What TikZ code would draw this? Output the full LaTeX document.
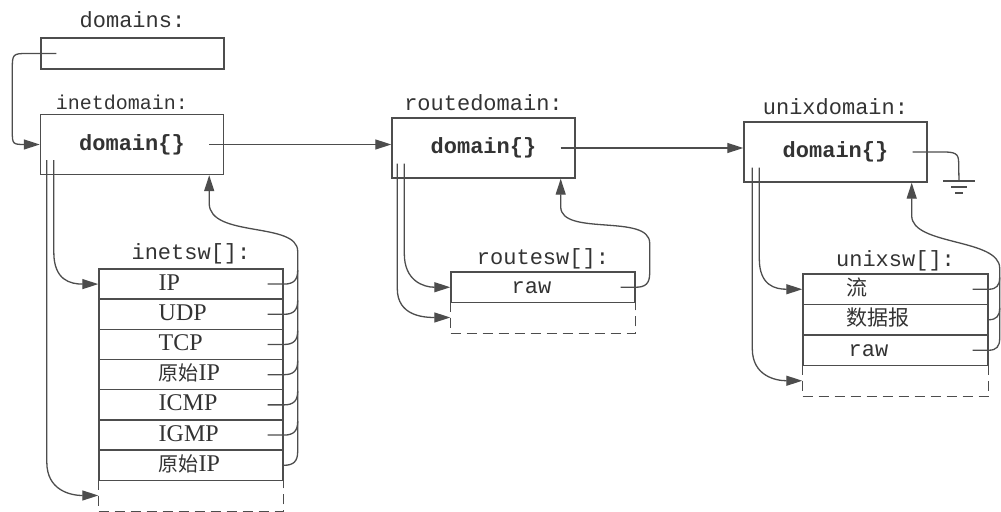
\documentclass[tikz,border=0pt]{standalone}
\usepackage{fontspec}
\setmainfont{Liberation Serif}
\setmonofont{Liberation Mono}
\newfontfamily\cjk{Noto Sans CJK SC}
\usetikzlibrary{arrows.meta,calc,positioning}
\definecolor{ink}{HTML}{333333}
\definecolor{ink2}{HTML}{4D4D4D}
\newcommand{\rawip}{{\cjk\fontsize{10}{12}\selectfont 原始}IP}
\newcommand{\cjkrow}[1]{{\cjk\fontsize{10.5}{12}\selectfont #1}}

\begin{document}
\begin{tikzpicture}[x=0.5pt,y=-0.5pt,
  lbl/.style={font=\ttfamily\fontsize{11}{13}\selectfont, text=ink, anchor=base, inner sep=0pt},
  dombox/.style={draw=ink2, line width=0.7pt, minimum width=91.5pt, minimum height=30pt, inner sep=0pt},
  fn/.style={font=\ttfamily\bfseries\fontsize{11}{13}\selectfont, text=ink},
  slot/.style={draw=ink2, line width=0.7pt, minimum width=92pt, minimum height=15.1pt, inner sep=0pt},
  hole/.style={slot, draw=none},
  rowtxt/.style={font=\fontsize{12}{14}\selectfont, text=ink, anchor=base west, inner sep=0pt},
  monotxt/.style={rowtxt, font=\ttfamily\fontsize{11}{13}\selectfont},
  wire/.style={draw=ink2, line width=0.65pt},
  ptr/.style={wire, -{Triangle[length=8pt,width=5pt]}},
  dashedge/.style={draw=ink2, line width=0.7pt, dash pattern=on 5pt off 3pt}]
  \useasboundingbox (0,0) rectangle (1001,512);

  % the domain structures
  \node[dombox, minimum height=15.5pt] (domains) at (132.5,53.5) {};
  \node[lbl] (domainslbl) at ($(domains.north)+(0,-10)$) {domains:};
  \node[dombox] (inetdom) at (132,144.5) {};
  \node[lbl, font=\ttfamily\fontsize{10}{12}\selectfont] (inetlbl) at ($(inetdom.north)+(-10,-4)$) {inetdomain:};
  \node[fn] (inetfn) at (inetdom) {domain\{\}};
  \node[dombox] (routedom) at (483.5,148) {};
  \node[lbl] (routelbl) at ($(routedom.north)+(0,-7)$) {routedomain:};
  \node[fn] (routefn) at (routedom) {domain\{\}};
  \node[dombox] (unixdom) at (835.5,152) {};
  \node[lbl] (unixlbl) at ($(unixdom.north)+(0,-7)$) {unixdomain:};
  \node[fn] (unixfn) at (unixdom) {domain\{\}};

  % inetsw[]
  \foreach \t [count=\i] in {IP,UDP,TCP,\rawip,ICMP,IGMP,\rawip} {
    \node[slot] (in\i) at (191,{284.1+30.2*(\i-1)}) {};
    \node[rowtxt] at ($(in\i.west)+(60,6)$) {\t};
  }
  \node[hole] (in8) at (191,{284.1+30.2*7}) {};
  \draw[dashedge] (in8.north west) -- (in8.south west) -- (in8.south east) -- (in8.north east);
  \node[lbl] (inetswlbl) at ($(in1.north)+(0,-9)$) {inetsw[]:};

  % routesw[]
  \node[slot] (rs1) at (543,287.25) {};
  \node[monotxt] at ($(rs1.west)+(61,6)$) {raw};
  \node[hole] (rs2) at (543,317.5) {};
  \draw[dashedge] (rs2.north west) -- (rs2.south west) -- (rs2.south east) -- (rs2.north east);
  \node[lbl] (routeswlbl) at ($(rs1.north)+(0,-7)$) {routesw[]:};

  % unixsw[]
  \node[slot, minimum width=92.5pt] (us1) at (895.5,289.25) {};
  \node[slot, minimum width=92.5pt] (us2) at (895.5,319.75) {};
  \node[slot, minimum width=92.5pt] (us3) at (895.5,350.25) {};
  \node[hole, minimum width=92.5pt] (us4) at (895.5,380.75) {};
  \draw[dashedge] (us4.north west) -- (us4.south west) -- (us4.south east) -- (us4.north east);
  \node[rowtxt] at ($(us1.west)+(44,6)$) {\cjkrow{流}};
  \node[rowtxt] at ($(us2.west)+(44,6)$) {\cjkrow{数据报}};
  \node[monotxt] at ($(us3.west)+(46,6)$) {raw};
  \node[lbl] (unixswlbl) at ($(us1.north)+(0,-7)$) {unixsw[]:};

  % chain of domains
  \draw[ptr] ($(domains.west)+(16,0)$) -- ++(-30,0) .. controls +(-13,0) and +(0,-13) .. ++(-14,14)
    -- ++(0,64) .. controls +(0,13) and +(-13,0) .. ($(inetdom.west)+(-14,0)$) -- (inetdom.west);
  \draw[ptr] ($(inetdom.east)+(-15,0)$) -- (routedom.west |- inetdom.east);
  \draw[ptr] ($(routedom.east)+(-15,0)$) -- (unixdom.west |- routedom.east);
  \coordinate (gnd) at (959,181);
  \draw[wire] ($(unixdom.east)+(-15,0)$) -- ++(32,0) .. controls +(14,0) and +(0,-10) .. ++(14,14) -- (gnd);
  \draw[wire] ($(gnd)+(-16,0)$) -- ($(gnd)+(16,0)$) ($(gnd)+(-8,6)$) -- ($(gnd)+(8,6)$)
    ($(gnd)+(-4,12)$) -- ($(gnd)+(4,12)$);

  % inetdomain <-> inetsw[]
  \draw[ptr] ($(inetdom.south west)+(14,-15)$) -- ++(0,92) .. controls +(0,28) and +(-28,0) .. (in1.west);
  \draw[ptr] ($(inetdom.south west)+(7,-15)$) -- ++(0,302) .. controls +(0,28) and +(-28,0) .. (in8.west);
  \foreach \i in {1,...,6}
    \draw[wire] ($(in\i.east)+(-16,0)$) -- (in\i.east) .. controls +(10,0) and +(0,10) .. ++(14,-14);
  \draw[ptr] (in7.east) .. controls +(10,0) and +(0,10) .. ++(14,-14) -- ++(0,-200)
    .. controls +(0,-30) and +(0,35) .. ($(inetdom.south east)+(-15,28)$) -- ($(inetdom.south east)+(-15,0)$);

  % routedomain <-> routesw[]
  \draw[ptr] ($(routedom.south west)+(13,-15)$) -- ++(0,90) .. controls +(0,27) and +(-27,0) .. (rs1.west);
  \draw[ptr] ($(routedom.south west)+(6,-15)$) -- ++(0,125) .. controls +(0,27) and +(-27,0) .. (rs2.west);
  \draw[ptr] ($(rs1.east)+(-15,0)$) -- (rs1.east) .. controls +(10,0) and +(0,10) .. ++(14,-14) -- ++(0,-30)
    .. controls +(0,-30) and +(0,30) .. ($(routedom.south east)+(-15,28)$) -- ($(routedom.south east)+(-15,0)$);

  % unixdomain <-> unixsw[]
  \draw[ptr] ($(unixdom.south west)+(16,-15)$) -- ++(0,91) .. controls +(0,27) and +(-27,0) .. (us1.west);
  \draw[ptr] ($(unixdom.south west)+(9,-15)$) -- ++(0,181) .. controls +(0,27) and +(-27,0) .. (us4.west);
  \draw[wire] ($(us1.east)+(-16,0)$) -- (us1.east) .. controls +(8,0) and +(0,8) .. ++(11,-12);
  \draw[wire] (us2.east) .. controls +(8,0) and +(0,8) .. ++(11,-12);
  \draw[ptr] ($(us3.east)+(-16,0)$) -- (us3.east) .. controls +(8,0) and +(0,8) .. ++(11,-12) -- ++(0,-70)
    .. controls +(0,-30) and +(0,30) .. ($(unixdom.south east)+(-16,33)$) -- ($(unixdom.south east)+(-16,0)$);
\end{tikzpicture}
\end{document}
